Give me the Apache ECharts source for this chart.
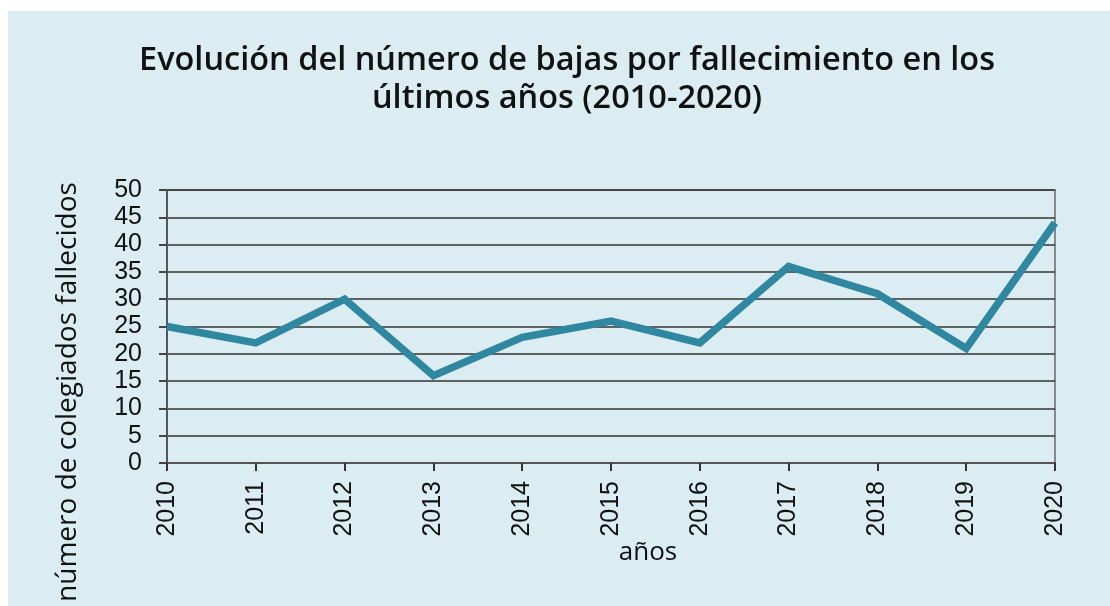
<!DOCTYPE html>
<html><head><meta charset="utf-8">
<script src="https://cdn.jsdelivr.net/npm/echarts@6/dist/echarts.min.js"></script>
<style>
html,body{margin:0;padding:0;background:#ffffff;width:1110px;height:606px;overflow:hidden;}
#c{position:absolute;left:8px;top:11px;width:1102px;height:595px;background:#dbedf3;}
</style></head><body>
<div id="c"></div>
<script>
const categories = ['2010','2011','2012','2013','2014','2015','2016','2017','2018','2019','2020'];
const bajas = [25, 22, 30, 16, 23, 26, 22, 36, 31, 21, 44];
const titleText = 'Evolución del número de bajas por fallecimiento en los\núltimos años (2010-2020)';
const yName = 'número de colegiados fallecidos';
const xName = 'años';

const chart = echarts.init(document.getElementById('c'), null, {renderer:'canvas'});
chart.setOption({
  backgroundColor: '#dbedf3',
  animation: false,
  title: {
    text: titleText, left: 554, top: 26, textAlign: 'center',
    textStyle: {fontFamily: 'Open Sans', fontWeight: 600, fontSize: 32.5, lineHeight: 38, color: '#111'}
  },
  grid: {left: 159, right: 55, top: 179, bottom: 143, show: true, borderColor: '#888', borderWidth: 2, backgroundColor: 'transparent'},
  xAxis: {
    type: 'category', data: categories, boundaryGap: false,
    axisLine: {lineStyle: {color: '#555', width: 2}},
    axisTick: {show: true, length: 8, lineStyle: {color: '#333', width: 2}},
    axisLabel: {rotate: 90, fontFamily: 'Liberation Sans', fontSize: 25, color: '#111', margin: 18},
    splitLine: {show: false}
  },
  yAxis: {
    type: 'value', min: 0, max: 50, interval: 5,
    axisLine: {show: true, lineStyle: {color: '#555', width: 2}},
    axisTick: {show: true, length: 8, lineStyle: {color: '#444', width: 2}},
    axisLabel: {fontFamily: 'Liberation Sans', fontSize: 25, color: '#111', margin: 25},
    splitLine: {lineStyle: {color: '#333', width: 1.5}}
  },
  graphic: [{
    type: 'text', x: 60, y: 381, rotation: Math.PI/2,
    style: {text: yName, fontFamily: 'Open Sans', fontWeight: 500, fontSize: 28, fill: '#111', align: 'center', verticalAlign: 'middle'}
  }, {
    type: 'text', x: 640, y: 542,
    style: {text: xName, fontFamily: 'Open Sans', fontWeight: 500, fontSize: 26, fill: '#111', align: 'center', verticalAlign: 'middle'}
  }],
  series: [{
    type: 'line', data: bajas, symbol: 'none',
    lineStyle: {color: '#2f88a0', width: 7.5, join: 'miter'}
  }]
});
</script>
</body></html>
